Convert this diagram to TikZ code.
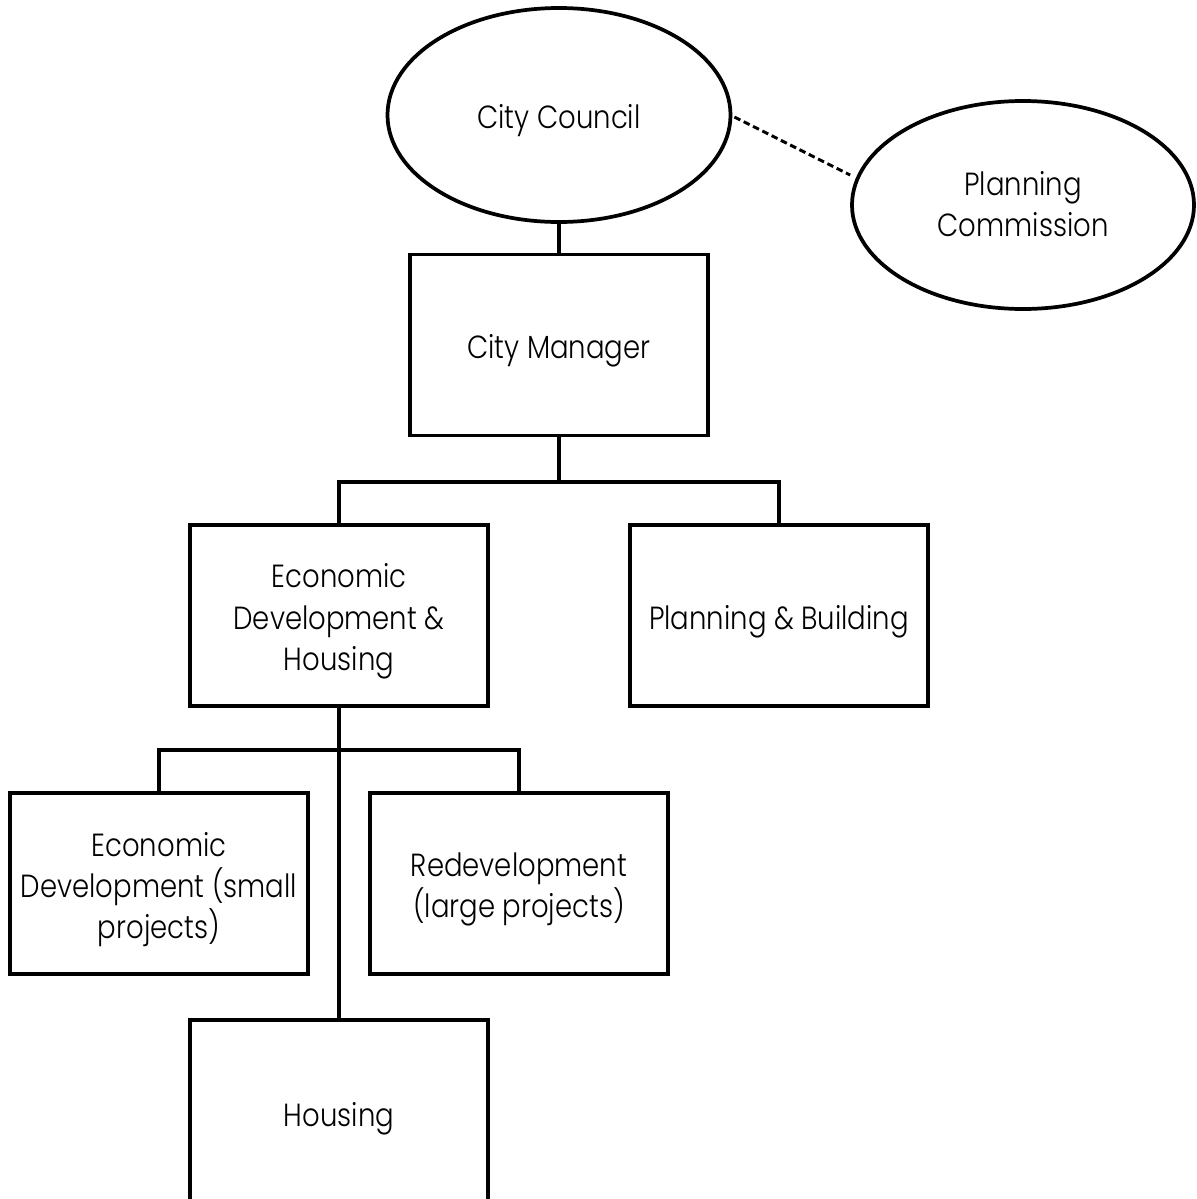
\documentclass[tikz,border=0pt]{standalone}
\usepackage{fontspec}
\setmainfont{Poppins}[UprightFont=* Light, FakeStretch=0.86]
\usetikzlibrary{shapes.geometric}
\begin{document}
\begin{tikzpicture}[x=0.75pt,y=-0.75pt,
  every node/.style={font=\fontsize{24}{31}\selectfont, align=center},
  lbl/.style={yshift=-4.5pt},
  oval/.style={draw, line width=2.8pt, ellipse, inner sep=0pt},
  box/.style={draw, line width=2.8pt, rectangle, inner sep=0pt, minimum width=298*0.75pt, minimum height=181*0.75pt},
  link/.style={line width=2.8pt}]
\useasboundingbox (0,0) rectangle (1196,1199);
\begin{scope}
\clip (0,0) rectangle (1196,1199);
\node[oval, minimum width=343*0.75pt, minimum height=214*0.75pt, label={[lbl]center:City Council}] (council) at (559,115) {};
\node[oval, minimum width=342*0.75pt, minimum height=208*0.75pt, label={[yshift=0.5pt]center:Planning\\Commission}] (commission) at (1023,205) {};
\node[box, label={[lbl]center:City Manager}] (manager) at (559,345) {};
\node[box, label={[lbl]center:Economic\\Development \&\\Housing}] (edh) at (339,615.5) {};
\node[box, label={[lbl]center:Planning \& Building}] (pb) at (779,615.5) {};
\node[box, label={[lbl]center:Economic\\Development (small\\projects)}] (eds) at (159,883.5) {};
\node[box, label={[lbl]center:Redevelopment\\(large projects)}] (redev) at (519,883.5) {};
\node[box, minimum height=220*0.75pt] (housing) at (339,1130) {};
\node[lbl] (housingtext) at (339,1113) {Housing};
\draw[line width=2.2pt, dash pattern=on 5pt off 2.8pt] (council.east) ++(2,2) coordinate (d1) -- (commission.west |- 0,175);
\draw[link] (council.south) -- (manager.north);
\coordinate (j1) at (559,482);
\coordinate (j2) at (339,750);
\draw[link] (manager.south) -- (j1);
\draw[link] (edh.north) |- (j1) -| (pb.north);
\draw[link] (edh.south) -- (housing.north);
\draw[link] (eds.north) |- (j2) -| (redev.north);
\end{scope}
\end{tikzpicture}
\end{document}
